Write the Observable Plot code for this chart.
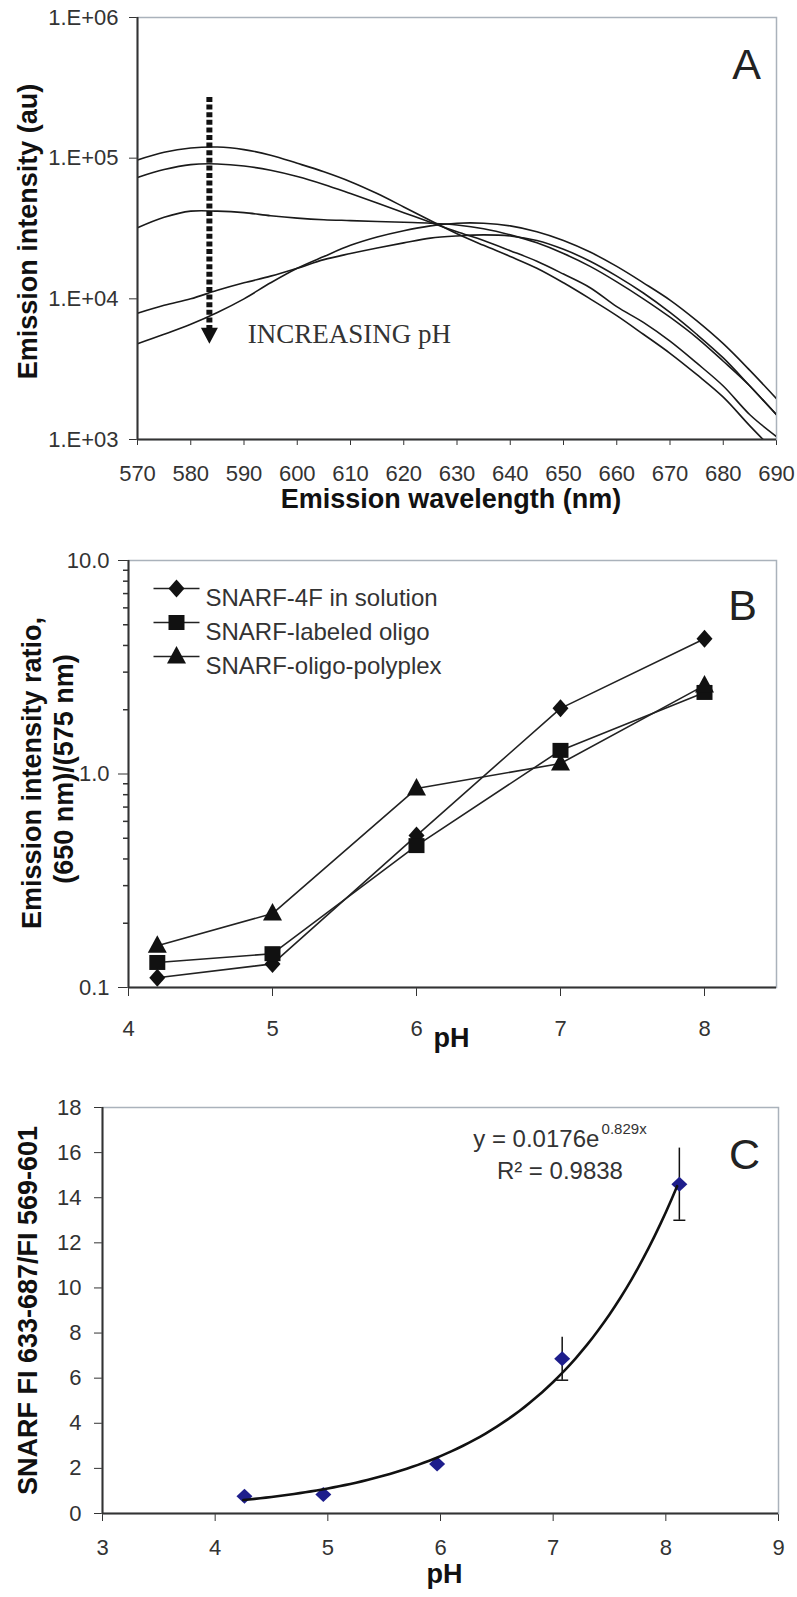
<!DOCTYPE html>
<html>
<head>
<meta charset="utf-8">
<script src="https://cdn.jsdelivr.net/npm/d3@7"></script>
<script src="https://cdn.jsdelivr.net/npm/@observablehq/plot@0.6"></script>
<style>
  body { margin: 0; background: #fff; }
  #fig { position: relative; width: 797px; height: 1597px; background: #fff; }
  #fig > svg { position: absolute; left: 0; overflow: visible; }
</style>
</head>
<body>
<div id="fig"></div>
<script>
// ---------- Panel A: emission spectra at five pH values ----------
const wavelengthsA = [570, 575, 580, 585, 590, 595, 600, 605, 610, 615, 620, 625, 630,
                      635, 640, 645, 650, 655, 660, 665, 670, 675, 680, 685, 690];
const spectrumPH1 = [9.7e4, 1.1e5, 1.18e5, 1.2e5, 1.15e5, 1.05e5, 9.2e4, 8.0e4, 6.8e4, 5.6e4, 4.5e4, 3.6e4, 2.9e4,
                     2.4e4, 2.0e4, 1.65e4, 1.3e4, 1.0e4, 7.6e3, 5.6e3, 4.1e3, 2.9e3, 2.0e3, 1.25e3, 8.0e2];
const spectrumPH2 = [7.3e4, 8.3e4, 9.0e4, 9.1e4, 8.8e4, 8.2e4, 7.4e4, 6.5e4, 5.6e4, 4.8e4, 4.1e4, 3.5e4, 3.0e4,
                     2.6e4, 2.2e4, 1.85e4, 1.5e4, 1.2e4, 8.8e3, 6.8e3, 5.0e3, 3.5e3, 2.4e3, 1.5e3, 1.05e3];
const spectrumPH3 = [3.2e4, 3.8e4, 4.2e4, 4.2e4, 4.1e4, 3.9e4, 3.75e4, 3.65e4, 3.6e4, 3.55e4, 3.5e4, 3.45e4, 3.35e4,
                     3.15e4, 2.85e4, 2.5e4, 2.1e4, 1.7e4, 1.32e4, 1.0e4, 7.4e3, 5.3e3, 3.6e3, 2.4e3, 1.5e3];
const spectrumPH4 = [7.9e3, 9.0e3, 1.0e4, 1.15e4, 1.3e4, 1.45e4, 1.65e4, 1.9e4, 2.1e4, 2.3e4, 2.5e4, 2.7e4, 2.8e4,
                     2.85e4, 2.8e4, 2.6e4, 2.25e4, 1.85e4, 1.45e4, 1.1e4, 8.0e3, 5.6e3, 3.8e3, 2.4e3, 1.5e3];
const spectrumPH5 = [4.8e3, 5.6e3, 6.6e3, 8.0e3, 1.0e4, 1.3e4, 1.65e4, 2.0e4, 2.4e4, 2.75e4, 3.05e4, 3.3e4, 3.45e4,
                     3.45e4, 3.3e4, 3.0e4, 2.6e4, 2.15e4, 1.7e4, 1.3e4, 9.8e3, 7.0e3, 4.8e3, 3.1e3, 1.95e3];
const wavelengthTicks = [570, 580, 590, 600, 610, 620, 630, 640, 650, 660, 670, 680, 690];
const intensityTicks = [1e3, 1e4, 1e5, 1e6];

// ---------- Panel B: intensity ratio versus pH ----------
const ratioSeries = ["SNARF-4F in solution", "SNARF-labeled oligo", "SNARF-oligo-polyplex"];
const ratioPH = [4.2, 5, 6, 7, 8];
const ratioSolution = [0.111, 0.129, 0.515, 2.03, 4.3];
const ratioOligo = [0.131, 0.144, 0.462, 1.29, 2.41];
const ratioPolyplex = [0.157, 0.222, 0.855, 1.12, 2.6];
const ratioTicks = [0.1, 1, 10];
const ratioMinorTicks = [0.2, 0.3, 0.4, 0.5, 0.6, 0.7, 0.8, 0.9, 2, 3, 4, 5, 6, 7, 8, 9];
const pHTicksB = [4, 5, 6, 7, 8];

// ---------- Panel C: calibration ratio with exponential fit ----------
const calibPH = [4.26, 4.96, 5.97, 7.08, 8.12];
const calibRatio = [0.76, 0.84, 2.2, 6.86, 14.6];
const calibError = [0, 0, 0, 0.95, 1.6];
const fitCoefficient = 0.0176;
const fitExponent = 0.829;
const fitR2 = 0.9838;
const pHTicksC = [3, 4, 5, 6, 7, 8, 9];
const ratioTicksC = [0, 2, 4, 6, 8, 10, 12, 14, 16, 18];

// ---------- shared styling ----------
const sans = "'Liberation Sans', Arial, sans-serif";
const axisDark = "#333";
const frameLight = "#aab2bb";
const tickFont = 22;
const titleFont = 27;

// marker shapes
const diamondB = {draw(c) { c.moveTo(0, -9); c.lineTo(8, 0); c.lineTo(0, 9); c.lineTo(-8, 0); c.closePath(); }};
const squareB = {draw(c) { c.rect(-8, -7.5, 16, 15); }};
const triangleB = {draw(c) { c.moveTo(0, -10.5); c.lineTo(9.5, 7); c.lineTo(-9.5, 7); c.closePath(); }};
const diamondC = {draw(c) { c.moveTo(0, -7.5); c.lineTo(8, 0); c.lineTo(0, 7.5); c.lineTo(-8, 0); c.closePath(); }};
const arrowHead = {draw(c) { c.moveTo(-8.5, -16); c.lineTo(8.5, -16); c.lineTo(0, 0); c.closePath(); }};
const legendStroke = {draw(c) { c.moveTo(-23, 0); c.lineTo(23, 0); }};
const errorCap = {draw(c) { c.moveTo(-6, 0); c.lineTo(6, 0); }};
const markersB = [diamondB, squareB, triangleB];

const fig = document.getElementById("fig");
function place(svg, top) { svg.style.top = top + "px"; fig.appendChild(svg); }

function titleText(text, opts) {
  return Plot.text([text], {text: d => d, fontFamily: sans, fontWeight: "bold", fontSize: titleFont,
                            fill: "#111", textAnchor: "middle", ...opts});
}

// ---------- Panel A ----------
const spectraA = [spectrumPH1, spectrumPH2, spectrumPH3, spectrumPH4, spectrumPH5]
  .flatMap((vals, k) => vals.map((v, i) => ({wl: wavelengthsA[i], intensity: v, series: k})));

const plotA = Plot.plot({
  width: 797, height: 530,
  marginTop: 17, marginBottom: 91, marginLeft: 137, marginRight: 21,
  style: {fontFamily: sans, fontSize: tickFont + "px", color: axisDark, background: "transparent", overflow: "visible"},
  x: {domain: [570, 690], ticks: wavelengthTicks, tickSize: 6, tickPadding: 20, tickFormat: d => String(d), label: null},
  y: {type: "log", domain: [1e3, 1e6], ticks: intensityTicks, tickSize: 8, tickPadding: 11,
      tickFormat: d => "1.E+0" + Math.round(Math.log10(d)), label: null},
  marks: [
    Plot.frame({stroke: frameLight, strokeWidth: 1.5}),
    Plot.line(spectraA, {x: "wl", y: "intensity", z: "series", stroke: "#1a1a1a", strokeWidth: 1.6, curve: "catmull-rom", clip: true}),
    Plot.ruleX([{x: 583.5, top: 2.7e5, bottom: 5.8e3}], {x: "x", y1: "top", y2: "bottom", stroke: "#111", strokeWidth: 6, strokeDasharray: "5,2.6"}),
    Plot.dot([{x: 583.5, y: 4.8e3}], {x: "x", y: "y", symbol: arrowHead, fill: "#111", stroke: "none"}),
    Plot.text(["INCREASING pH"], {text: d => d, x: 590.7, y: 5.6e3, textAnchor: "start", fontFamily: "'Liberation Serif', 'Times New Roman', serif", fontSize: 27, fill: "#333"}),
    Plot.text(["A"], {text: d => d, frameAnchor: "top-right", dx: -30, dy: 31, textAnchor: "middle", fontSize: 43, fill: "#222"}),
    Plot.ruleX([570], {stroke: axisDark, strokeWidth: 2}),
    Plot.ruleY([1e3], {stroke: axisDark, strokeWidth: 2}),
    titleText("Emission wavelength (nm)", {frameAnchor: "bottom", dx: -6, dy: 68}),
    titleText("Emission intensity (au)", {frameAnchor: "left", dx: -109, dy: 3, rotate: -90})
  ]
});
place(plotA, 0);

// ---------- Panel B ----------
const ratioTable = [ratioSolution, ratioOligo, ratioPolyplex]
  .flatMap((vals, k) => vals.map((v, i) => ({pH: ratioPH[i], ratio: v, series: ratioSeries[k]})));

const plotB = Plot.plot({
  width: 797, height: 540,
  marginTop: 30, marginBottom: 83, marginLeft: 128, marginRight: 21,
  style: {fontFamily: sans, fontSize: tickFont + "px", color: axisDark, background: "transparent", overflow: "visible"},
  x: {domain: [4, 8.5], ticks: pHTicksB, tickSize: 9, tickPadding: 24, tickFormat: d => String(d), label: null},
  y: {type: "log", domain: [0.1, 10], ticks: ratioTicks, tickSize: 10, tickPadding: 9, tickFormat: d => d.toFixed(1), label: null},
  marks: [
    Plot.frame({stroke: frameLight, strokeWidth: 1.5}),
    Plot.ruleY(ratioMinorTicks, {x1: 4, x2: 4, insetLeft: -5, stroke: axisDark, strokeWidth: 1.5}),
    ...ratioSeries.map(name => Plot.line(ratioTable.filter(d => d.series === name), {x: "pH", y: "ratio", stroke: "#222", strokeWidth: 1.6})),
    ...ratioSeries.map((name, k) => Plot.dot(ratioTable.filter(d => d.series === name), {x: "pH", y: "ratio", symbol: markersB[k], fill: "#111", stroke: "none"})),
    ...ratioSeries.map((name, k) => Plot.dot([name], {frameAnchor: "top-left", dx: 48, dy: 28 + 34 * k, symbol: legendStroke, stroke: "#222", strokeWidth: 1.6, fill: "none"})),
    ...ratioSeries.map((name, k) => Plot.dot([name], {frameAnchor: "top-left", dx: 48, dy: 28 + 34 * k, symbol: markersB[k], fill: "#111", stroke: "none"})),
    ...ratioSeries.map((name, k) => Plot.text([name], {text: d => d, frameAnchor: "top-left", dx: 77, dy: 28 + 34 * k, textAnchor: "start", fontSize: 24, fill: "#333"})),
    Plot.text(["B"], {text: d => d, frameAnchor: "top-right", dx: -34, dy: 29, textAnchor: "middle", fontSize: 43, fill: "#222"}),
    Plot.ruleX([4], {stroke: axisDark, strokeWidth: 2}),
    Plot.ruleY([0.1], {stroke: axisDark, strokeWidth: 2}),
    titleText("pH", {frameAnchor: "bottom", dx: -1, dy: 59}),
    titleText("Emission intensity ratio,", {frameAnchor: "left", dx: -96, dy: -1, rotate: -90}),
    titleText("(650 nm)/(575 nm)", {frameAnchor: "left", dx: -64, dy: -5, rotate: -90})
  ]
});
place(plotB, 530);

// ---------- Panel C ----------
const calibTable = calibPH.map((pH, i) => ({pH, ratio: calibRatio[i], err: calibError[i]}));
const errorRows = calibTable.filter(d => d.err > 0);
const fitCurve = d3.range(4.25, 8.1001, 0.05).map(pH => ({pH, ratio: fitCoefficient * Math.exp(fitExponent * pH)}));

const plotC = Plot.plot({
  width: 797, height: 527,
  marginTop: 37, marginBottom: 84, marginLeft: 102, marginRight: 19,
  style: {fontFamily: sans, fontSize: tickFont + "px", color: axisDark, background: "transparent", overflow: "visible"},
  x: {domain: [3, 9], ticks: pHTicksC, tickSize: 8, tickPadding: 18, tickFormat: d => String(d), label: null},
  y: {domain: [0, 18], ticks: ratioTicksC, tickSize: 8, tickPadding: 13, tickFormat: d => String(d), label: null},
  marks: [
    Plot.frame({stroke: frameLight, strokeWidth: 1.5}),
    Plot.ruleX(errorRows, {x: "pH", y1: d => d.ratio - d.err, y2: d => d.ratio + d.err, stroke: "#111", strokeWidth: 1.5}),
    Plot.dot(errorRows, {x: "pH", y: d => d.ratio - d.err, symbol: errorCap, stroke: "#111", strokeWidth: 1.5, fill: "none"}),
    Plot.dot(calibTable, {x: "pH", y: "ratio", symbol: diamondC, fill: "#1e1e8c", stroke: "none"}),
    Plot.line(fitCurve, {x: "pH", y: "ratio", stroke: "#111", strokeWidth: 2.6}),
    Plot.text(["y = " + fitCoefficient + "e"], {text: d => d, x: 7.41, y: 16.6, textAnchor: "end", fontSize: 24, fill: "#333"}),
    Plot.text([fitExponent + "x"], {text: d => d, x: 7.43, y: 17.05, textAnchor: "start", fontSize: 15, fill: "#333"}),
    Plot.text(["R\u00b2 = " + fitR2], {text: d => d, x: 7.06, y: 15.15, textAnchor: "middle", fontSize: 24, fill: "#333"}),
    Plot.text(["C"], {text: d => d, frameAnchor: "top-right", dx: -34, dy: 31, textAnchor: "middle", fontSize: 43, fill: "#222"}),
    Plot.ruleX([3], {stroke: axisDark, strokeWidth: 2}),
    Plot.ruleY([0], {stroke: axisDark, strokeWidth: 2}),
    titleText("pH", {frameAnchor: "bottom", dx: 4, dy: 69}),
    titleText("SNARF FI 633-687/FI 569-601", {frameAnchor: "left", dx: -74, dy: 0, rotate: -90})
  ]
});
place(plotC, 1070);
</script>
</body>
</html>
